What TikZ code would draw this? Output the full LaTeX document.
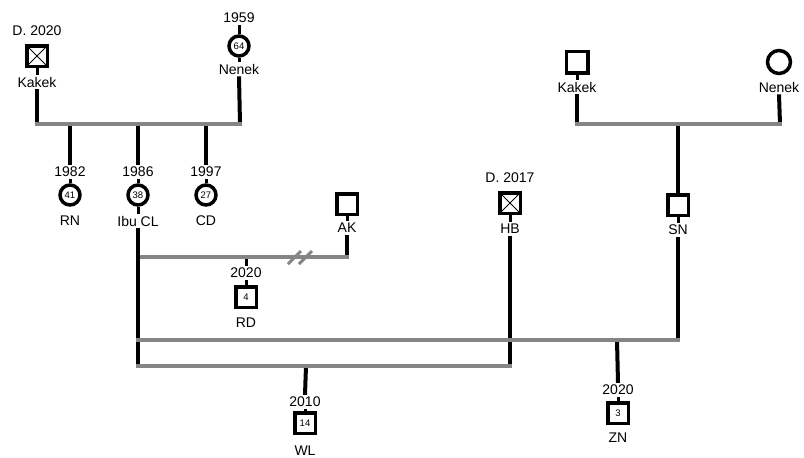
\documentclass[tikz,border=0pt]{standalone}
\usepackage{fontspec}
\setmainfont{Liberation Sans}
\begin{document}
\begin{tikzpicture}[x=1pt,y=-1pt,
  sq/.style={draw, line width=3.5pt, minimum size=20.5pt, inner sep=0pt, fill=white},
  circ/.style={circle, draw, line width=3.5pt, minimum size=20pt, inner sep=0pt, fill=white},
  dec/.style={path picture={\draw[line width=1pt] (path picture bounding box.south west) -- (path picture bounding box.north east) (path picture bounding box.north west) -- (path picture bounding box.south east);}},
  lbl/.style={inner sep=2pt, font=\fontsize{14}{16}\selectfont},
  num/.style={font=\fontsize{9.5}{10}\selectfont},
  blk/.style={draw=black, line width=4pt},
  gry/.style={draw=black!48, line width=4pt},
  stub/.style={draw=black, line width=3pt}]
\useasboundingbox (0,0) rectangle (804,458);
% ---------- left grandparents
\node[sq,dec] (K1) at (37,56) {};
\node[lbl] (K1d) at (37,31) {D. 2020};
\node[lbl] (K1n) at (37,82) {Kakek};
\node[circ,num] (N1) at (239,46) {64};
\node[lbl] (N1y) at (239,18) {1959};
\node[lbl] (N1n) at (239,69) {Nenek};
\draw[stub] (K1.south) -- (K1n.north);
\draw[stub] (N1y.south) -- (N1.north);
\draw[stub] (N1.south) -- (N1n.north);
\coordinate (h1a) at (37,124);
\coordinate (h1b) at (240,124);
\draw[blk] (K1n.south) -- (h1a);
\draw[blk] (N1n.south) -- (h1b);
% children
\node[circ,num] (RN) at (70,195) {41};
\node[lbl] (RNy) at (70,172) {1982};
\node[lbl] (RNn) at (70,221) {RN};
\node[circ,num] (CL) at (138,195) {38};
\node[lbl] (CLy) at (138,172) {1986};
\node[lbl] (CLn) at (138,221) {Ibu CL};
\node[circ,num] (CD) at (206,195) {27};
\node[lbl] (CDy) at (206,172) {1997};
\node[lbl] (CDn) at (206,221) {CD};
\coordinate (c1) at (70,124);
\coordinate (c2) at (138,124);
\coordinate (c3) at (206,124);
\draw[blk] (c1) -- (RNy.north);
\draw[blk] (c2) -- (CLy.north);
\draw[blk] (c3) -- (CDy.north);
\draw[stub] (RNy.south) -- (RN.north);
\draw[stub] (CLy.south) -- (CL.north);
\draw[stub] (CDy.south) -- (CD.north);
\draw[stub] (CL.south) -- (CLn.north);
\draw[gry] ([xshift=-2pt]h1a) -- ([xshift=2pt]h1b);
% ---------- AK union
\node[sq] (AK) at (347,204) {};
\node[lbl] (AKn) at (347,228) {AK};
\draw[stub] (AK.south) -- (AKn.north);
\coordinate (h2a) at (138,257);
\coordinate (h2b) at (347,257);
\draw[blk] (AKn.south) -- (h2b);
\node[sq,num] (RD) at (246,297) {4};
\node[lbl] (RDy) at (246,273) {2020};
\node[lbl] (RDn) at (246,323) {RD};
\coordinate (rdc) at (246,257);
\draw[stub] (rdc) -- (RDy.north);
\draw[stub] (RDy.south) -- (RD.north);
\draw[gry] (h2a) -- ([xshift=2pt]h2b);
\coordinate (brk) at (300,257);
\draw[draw=black!48, line width=3pt] ([shift={(-12,7)}]brk) -- ([shift={(1,-6)}]brk);
\draw[draw=black!48, line width=3pt] ([shift={(-1,7)}]brk) -- ([shift={(12,-6)}]brk);
% ---------- right grandparents
\node[sq, minimum size=21.5pt] (K2) at (577,62) {};
\node[lbl] (K2n) at (577,87) {Kakek};
\node[circ, minimum size=23pt] (N2) at (779,62) {};
\node[lbl] (N2n) at (779,87) {Nenek};
\draw[stub] (K2.south) -- (K2n.north);
\coordinate (h3a) at (577,124);
\coordinate (h3b) at (780,124);
\coordinate (h3c) at (678,124);
\draw[blk] (K2n.south) -- (h3a);
\draw[blk] (N2n.south) -- (h3b);
\node[sq] (SN) at (678,205) {};
\node[lbl] (SNn) at (678,230) {SN};
\draw[blk] (h3c) -- (SN.north);
\draw[stub] (SN.south) -- (SNn.north);
\draw[gry] ([xshift=-2pt]h3a) -- ([xshift=2pt]h3b);
% ---------- HB
\node[sq,dec] (HB) at (510,203) {};
\node[lbl] (HBd) at (510,178) {D. 2017};
\node[lbl] (HBn) at (510,229) {HB};
\draw[stub] (HB.south) -- (HBn.north);
% ---------- lower unions
\coordinate (u1a) at (138,340);
\coordinate (u1b) at (678,340);
\coordinate (u2a) at (138,366);
\coordinate (u2b) at (510,366);
\draw[blk] (CLn.south) -- ([yshift=2pt]u2a);
\draw[blk] (HBn.south) -- ([yshift=2pt]u2b);
\draw[blk] (SNn.south) -- ([yshift=2pt]u1b);
% WL
\node[sq,num] (WL) at (305,423) {14};
\node[lbl] (WLy) at (305,402) {2010};
\node[lbl] (WLn) at (305,451) {WL};
\coordinate (wlc) at (306,366);
\draw[blk] (wlc) -- (WLy.north);
\draw[stub] (WLy.south) -- (WL.north);
% ZN
\node[sq,num] (ZN) at (618,413) {3};
\node[lbl] (ZNy) at (618,390) {2020};
\node[lbl] (ZNn) at (618,438) {ZN};
\coordinate (znc) at (617,340);
\draw[blk] (znc) -- (ZNy.north);
\draw[stub] (ZNy.south) -- (ZN.north);
\draw[gry] ([xshift=-2pt]u1a) -- ([xshift=2pt]u1b);
\draw[gry] ([xshift=-2pt]u2a) -- ([xshift=2pt]u2b);
\end{tikzpicture}
\end{document}
